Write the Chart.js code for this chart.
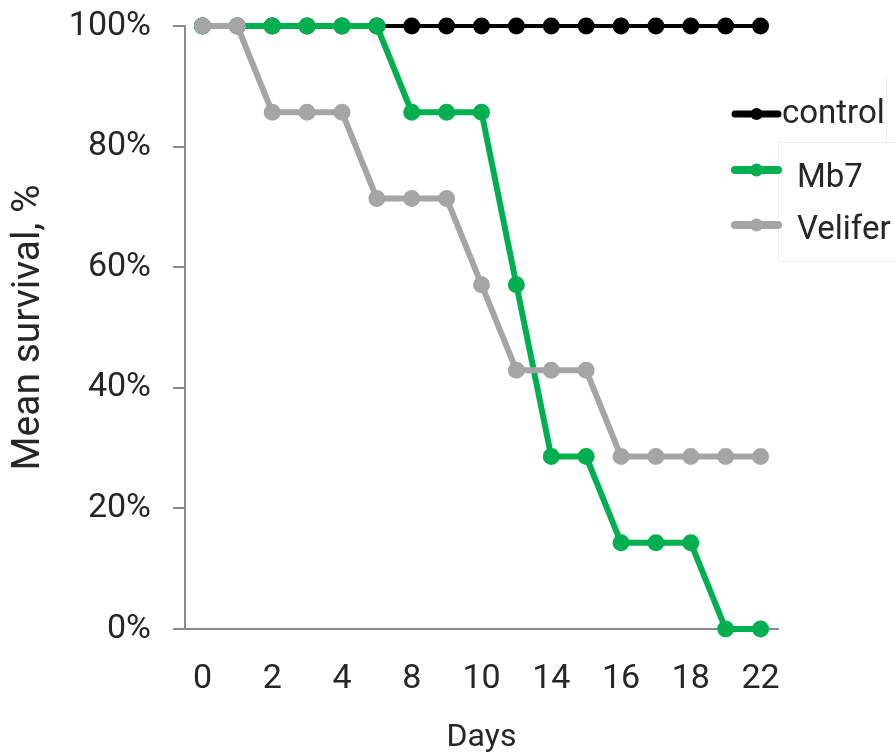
<!DOCTYPE html>
<html>
<head>
<meta charset="utf-8">
<script src="https://cdn.jsdelivr.net/npm/chart.js@4.4.1/dist/chart.umd.min.js"></script>
<style>
  html, body { margin: 0; padding: 0; background: #ffffff; overflow: hidden; }
  #wrap { width: 895px; height: 754px; }
</style>
</head>
<body>
<div id="wrap"><canvas id="c" width="895" height="754"></canvas></div>
<script>
// ---- data ----
const days = ['0', '1', '2', '3', '4', '6', '8', '9', '10', '12', '14', '15', '16', '17', '18', '20', '22'];
const control = [100, 100, 100, 100, 100, 100, 100, 100, 100, 100, 100, 100, 100, 100, 100, 100, 100];
const mb7 = [100, 100, 100, 100, 100, 100, 85.7, 85.7, 85.7, 57.1, 28.6, 28.6, 14.3, 14.3, 14.3, 0, 0];
const velifer = [100, 100, 85.7, 85.7, 85.7, 71.4, 71.4, 71.4, 57.1, 42.9, 42.9, 42.9, 28.6, 28.6, 28.6, 28.6, 28.6];
const seriesNames = ['control', 'Mb7', 'Velifer'];
const yTicks = [0, 20, 40, 60, 80, 100];

const FONT = 'Roboto, "Liberation Sans", sans-serif';
const TEXT = '#262626';
const AXIS = '#8a8a8a';

const legendPlugin = {
  id: 'customLegend',
  afterDraw(chart) {
    const ctx = chart.ctx;
    ctx.save();
    // faint legend frames
    ctx.strokeStyle = '#eeeeee';
    ctx.lineWidth = 1;
    ctx.beginPath();
    ctx.moveTo(886.5, 78); ctx.lineTo(886.5, 142.5);
    ctx.stroke();
    ctx.strokeRect(778.5, 142.5, 130, 119);

    const rows = [
      { y: 114, tx: 782, ty: 115, lw: 7, r: 6 },
      { y: 170, tx: 797, ty: 179, lw: 8, r: 6.5 },
      { y: 225, tx: 797, ty: 231, lw: 8, r: 6.5 }
    ];
    chart.data.datasets.forEach((ds, i) => {
      const row = rows[i];
      ctx.strokeStyle = ds.borderColor;
      ctx.lineWidth = row.lw;
      ctx.lineCap = 'round';
      ctx.beginPath();
      ctx.moveTo(735, row.y);
      ctx.lineTo(778, row.y);
      ctx.stroke();
      ctx.fillStyle = ds.borderColor;
      ctx.beginPath();
      ctx.arc(756.5, row.y, row.r, 0, Math.PI * 2);
      ctx.fill();
      ctx.fillStyle = TEXT;
      ctx.font = '33px ' + FONT;
      ctx.textAlign = 'left';
      ctx.textBaseline = 'middle';
      ctx.fillText(ds.label, row.tx, row.ty);
    });
    ctx.restore();
  }
};

const colors = ['#000000', '#00b050', '#a5a5a5'];
const widths = [4, 6, 6];
const values = [control, mb7, velifer];
const orders = [3, 2, 1];

const datasets = values.map((v, i) => ({
  label: seriesNames[i],
  data: v,
  borderColor: colors[i],
  backgroundColor: colors[i],
  pointBackgroundColor: colors[i],
  pointBorderColor: colors[i],
  borderWidth: widths[i],
  pointRadius: 7.5,
  pointBorderWidth: 2,
  pointHoverRadius: 7.5,
  tension: 0,
  fill: false,
  clip: false,
  order: orders[i]
}));

new Chart(document.getElementById('c'), {
  type: 'line',
  data: { labels: days, datasets: datasets },
  options: {
    responsive: false,
    animation: false,
    devicePixelRatio: 1,
    layout: { padding: { left: 0, top: 26, right: 117, bottom: 0 } },
    plugins: {
      legend: { display: false },
      tooltip: { enabled: false },
      title: { display: false }
    },
    scales: {
      x: {
        type: 'category',
        offset: true,
        afterFit(scale) { scale.height = 125; scale.paddingLeft = 0; scale.paddingRight = 0; },
        grid: { display: true, drawOnChartArea: false, drawTicks: false },
        border: { display: true, color: AXIS, width: 2 },
        ticks: {
          autoSkip: false,
          maxRotation: 0,
          minRotation: 0,
          padding: 30,
          color: TEXT,
          font: { family: FONT, size: 34 },
          callback: function (value, index) {
            return index % 2 === 0 ? this.getLabelForValue(value) : '';
          }
        },
        title: {
          display: true,
          text: 'Days',
          color: TEXT,
          font: { family: FONT, size: 32, lineHeight: 1 },
          padding: { top: 0, bottom: 0 }
        }
      },
      y: {
        min: 0,
        max: 100,
        afterFit(scale) { scale.width = 185; scale.paddingTop = 0; scale.paddingBottom = 0; },
        afterBuildTicks(scale) { scale.ticks = yTicks.map(v => ({ value: v })); },
        grid: { display: true, drawOnChartArea: false, drawTicks: true, tickLength: 12, color: AXIS, lineWidth: 2 },
        border: { display: true, color: AXIS, width: 2 },
        ticks: {
          padding: 22,
          color: TEXT,
          font: { family: FONT, size: 34 },
          callback: v => v + '%'
        },
        title: {
          display: true,
          text: 'Mean survival, %',
          color: TEXT,
          font: { family: FONT, size: 39, lineHeight: 1.2 },
          padding: { top: 6, bottom: 0 }
        }
      }
    }
  },
  plugins: [legendPlugin]
});
</script>
</body>
</html>
